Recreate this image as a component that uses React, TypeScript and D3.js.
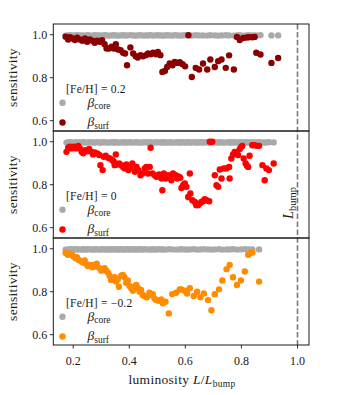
import React from "react";
import * as d3 from "d3";

// ---------- data ----------
const xTicks = [0.2, 0.4, 0.6, 0.8, 1.0];
const yTicks = [0.6, 0.8, 1.0];
const bumpLum = 1.0;

// [Fe/H] = 0.2
const lumA = [
  0.173,0.182,0.188,0.198,0.206,0.214,0.224,0.233,0.242,0.250,
  0.259,0.269,0.277,0.286,0.295,0.303,0.312,0.319,0.328,0.337,
  0.345,0.352,0.360,0.369,0.378,0.385,0.392,0.404,0.414,0.423,
  0.430,0.440,0.449,0.459,0.467,0.476,0.485,0.495,0.502,0.511,
  0.518,0.527,0.535,0.544,0.554,0.562,0.572,0.580,0.590,0.599,
  0.611,0.623,0.637,0.649,0.663,0.678,0.689,0.705,0.717,0.729,
  0.744,0.756,0.773,0.784,0.794,0.806,0.818,0.827,0.839,0.847,
  0.853,0.868,0.907,0.931,
];
const surfA = [
  0.991,0.978,0.988,0.983,0.975,0.986,0.978,0.972,0.983,0.967,
  0.978,0.972,0.963,0.972,0.967,0.975,0.956,0.936,0.936,0.944,
  0.936,0.956,0.931,0.928,0.916,0.913,0.858,0.941,0.913,0.900,
  0.894,0.905,0.900,0.905,0.913,0.909,0.916,0.909,0.920,0.905,
  0.827,0.831,0.850,0.866,0.858,0.873,0.869,0.872,0.863,0.853,
  0.998,0.803,0.846,0.838,0.866,0.838,0.885,0.850,0.877,0.885,
  0.846,0.904,0.838,0.990,0.975,0.985,0.987,0.988,0.988,0.990,
  0.916,0.908,0.869,0.892,
];
const coreA = [
  0.996,0.997,0.998,0.997,0.996,0.998,0.997,0.997,0.996,0.998,
  0.997,0.996,0.998,0.997,0.997,0.996,0.998,0.997,0.996,0.997,
  0.998,0.997,0.996,0.997,0.998,0.996,0.997,0.998,0.997,0.996,
  0.997,0.998,0.996,0.997,0.997,0.998,0.996,0.997,0.998,0.997,
  0.996,0.997,0.998,0.997,0.996,0.998,0.997,0.996,0.997,0.998,
  0.997,0.996,0.998,0.997,0.997,0.996,0.998,0.997,0.996,0.997,
  0.998,0.997,0.996,0.997,0.998,0.996,0.997,0.998,0.997,0.996,
  0.997,0.998,0.997,0.997,
];

// [Fe/H] = 0
const lumB = [
  0.176,0.182,0.188,0.194,0.202,0.210,0.218,0.224,0.230,0.236,
  0.243,0.250,0.257,0.265,0.271,0.277,0.286,0.293,0.297,0.305,
  0.309,0.316,0.325,0.331,0.340,0.345,0.348,0.352,0.357,0.364,
  0.372,0.378,0.384,0.390,0.397,0.404,0.411,0.420,0.426,0.432,
  0.440,0.447,0.455,0.461,0.467,0.473,0.476,0.483,0.491,0.497,
  0.506,0.515,0.518,0.523,0.530,0.538,0.544,0.550,0.556,0.566,
  0.571,0.578,0.582,0.586,0.592,0.598,0.604,0.610,0.616,0.618,
  0.625,0.634,0.639,0.645,0.651,0.657,0.663,0.669,0.675,0.685,
  0.687,0.696,0.705,0.711,0.717,0.723,0.729,0.737,0.746,0.756,
  0.758,0.764,0.770,0.776,0.782,0.788,0.794,0.800,0.803,0.808,
  0.815,0.820,0.824,0.829,0.839,0.847,0.856,0.863,0.875,0.883,
  0.889,0.898,0.915,
];
const surfB = [
  0.953,0.972,0.977,0.969,0.977,0.969,0.981,0.969,0.953,0.946,
  0.961,0.956,0.966,0.953,0.941,0.950,0.946,0.938,0.891,0.868,
  0.930,0.935,0.925,0.922,0.914,0.907,0.891,0.941,0.894,0.899,
  0.891,0.883,0.876,0.894,0.868,0.879,0.899,0.860,0.883,0.868,
  0.844,0.852,0.876,0.883,0.852,0.883,0.972,0.852,0.844,0.837,
  0.848,0.829,0.774,0.852,0.829,0.844,0.837,0.821,0.852,0.844,
  0.829,0.837,0.832,0.785,0.798,0.806,0.790,0.743,0.852,0.759,
  0.728,0.720,0.705,0.705,0.712,0.720,0.723,0.733,0.728,0.723,
  1.000,1.000,0.844,0.798,0.790,0.871,0.829,0.876,0.876,0.883,
  0.829,0.922,0.941,0.953,0.950,0.938,0.966,0.977,0.981,0.922,
  0.899,0.888,0.883,0.935,0.984,0.984,0.981,0.981,0.891,0.821,
  0.876,0.868,0.899,
];
const coreB = [
  0.996,0.997,0.998,0.997,0.996,0.998,0.997,0.997,0.996,0.998,
  0.997,0.996,0.998,0.997,0.997,0.996,0.998,0.997,0.996,0.997,
  0.998,0.997,0.996,0.997,0.998,0.996,0.997,0.998,0.997,0.996,
  0.997,0.998,0.996,0.997,0.997,0.998,0.996,0.997,0.998,0.997,
  0.996,0.997,0.998,0.997,0.996,0.998,0.997,0.996,0.997,0.998,
  0.997,0.996,0.998,0.997,0.997,0.996,0.998,0.997,0.996,0.997,
  0.998,0.997,0.996,0.997,0.998,0.996,0.997,0.998,0.997,0.996,
  0.997,0.998,0.996,0.997,0.997,0.998,0.996,0.997,0.998,0.997,
  0.996,0.997,0.998,0.997,0.996,0.998,0.997,0.996,0.997,0.998,
  0.997,0.996,0.998,0.997,0.997,0.996,0.998,0.997,0.996,0.997,
  0.998,0.997,0.996,0.997,0.998,0.996,0.997,0.998,0.997,0.996,
  0.997,0.998,0.997,
];

// [Fe/H] = -0.2
const lumC = [
  0.173,0.181,0.189,0.196,0.201,0.209,0.213,0.220,0.229,0.235,
  0.241,0.246,0.252,0.261,0.268,0.273,0.280,0.284,0.294,0.300,
  0.306,0.312,0.318,0.324,0.330,0.335,0.341,0.348,0.353,0.359,
  0.363,0.371,0.377,0.383,0.389,0.395,0.401,0.407,0.413,0.419,
  0.425,0.431,0.437,0.442,0.448,0.454,0.463,0.472,0.478,0.484,
  0.490,0.496,0.505,0.514,0.520,0.529,0.541,0.553,0.567,0.580,
  0.586,0.598,0.606,0.616,0.630,0.642,0.654,0.666,0.681,0.693,
  0.705,0.720,0.732,0.747,0.758,0.770,0.784,0.798,0.812,0.824,
  0.832,0.839,0.863,
];
const surfC = [
  0.980,0.972,0.977,0.972,0.964,0.956,0.961,0.948,0.941,0.936,
  0.945,0.930,0.920,0.925,0.914,0.925,0.917,0.930,0.910,0.898,
  0.902,0.910,0.898,0.889,0.874,0.855,0.863,0.867,0.847,0.858,
  0.823,0.874,0.878,0.867,0.842,0.852,0.827,0.816,0.805,0.823,
  0.831,0.816,0.800,0.808,0.785,0.780,0.774,0.795,0.785,0.789,
  0.769,0.761,0.758,0.764,0.746,0.753,0.699,0.789,0.795,0.810,
  0.811,0.805,0.792,0.816,0.780,0.800,0.774,0.792,0.761,0.714,
  0.788,0.811,0.852,0.905,0.925,0.867,0.831,0.852,0.894,0.972,
  0.980,0.983,0.847,
];
const coreC = [
  0.996,0.997,0.998,0.997,0.996,0.998,0.997,0.997,0.996,0.998,
  0.997,0.996,0.998,0.997,0.997,0.996,0.998,0.997,0.996,0.997,
  0.998,0.997,0.996,0.997,0.998,0.996,0.997,0.998,0.997,0.996,
  0.997,0.998,0.996,0.997,0.997,0.998,0.996,0.997,0.998,0.997,
  0.996,0.997,0.998,0.997,0.996,0.998,0.997,0.996,0.997,0.998,
  0.997,0.996,0.998,0.997,0.997,0.996,0.998,0.997,0.996,0.997,
  0.998,0.997,0.996,0.997,0.998,0.996,0.997,0.998,0.997,0.996,
  0.997,0.998,0.996,0.997,0.997,0.998,0.996,0.997,0.998,0.997,
  0.996,0.997,0.997,
];

const panelLabels = ["[Fe/H] = 0.2", "[Fe/H] = 0", "[Fe/H] = \u22120.2"];
const surfColors = ["#8b0000", "#ff0000", "#ff8c00"];
const coreColor = "#aaaaaa";

// ---------- layout ----------
const W = 347;
const H = 395;
const LEFT = 53.3;
const RIGHT = 309;
const TOP = 24;
const PH = 107;
const FONT = "Liberation Serif, DejaVu Serif, serif";
const INK = "#1a1a1a";

const panels = [
  { label: panelLabels[0], lum: lumA, surf: surfA, core: coreA, color: surfColors[0] },
  { label: panelLabels[1], lum: lumB, surf: surfB, core: coreB, color: surfColors[1] },
  { label: panelLabels[2], lum: lumC, surf: surfC, core: coreC, color: surfColors[2] },
];

const R = 3.2;

export default function App() {
  const x = d3.scaleLinear().domain([0.129, 1.041]).range([LEFT, RIGHT]);
  const bottom = TOP + PH * 3;
  return (
    <svg
      width={W}
      height={H}
      style={{ position: "absolute", left: 0, top: 0, background: "#fff", fontFamily: FONT }}
    >
      {panels.map((p, pi) => {
        const top = TOP + pi * PH;
        const y = d3.scaleLinear().domain([0.552, 1.05]).range([top + PH, top]);
        return (
          <g key={pi}>
            <defs>
              <clipPath id={`clip${pi}`}>
                <rect x={LEFT} y={top} width={RIGHT - LEFT} height={PH} />
              </clipPath>
            </defs>
            <g clipPath={`url(#clip${pi})`}>
              {p.lum.map((l, i) => (
                <circle key={"c" + i} cx={x(l)} cy={y(p.core[i])} r={R} fill={coreColor} />
              ))}
              {p.lum.map((l, i) => (
                <circle key={"s" + i} cx={x(l)} cy={y(p.surf[i])} r={R} fill={p.color} />
              ))}
            </g>
            {/* y ticks */}
            {yTicks.map((t) => (
              <g key={t}>
                <line x1={LEFT - 3.5} x2={LEFT} y1={y(t)} y2={y(t)} stroke={INK} strokeWidth={0.9} />
                <text
                  x={LEFT - 6}
                  y={y(t)}
                  dy="0.35em"
                  textAnchor="end"
                  fontSize={12}
                  fill={INK}
                >
                  {t.toFixed(1)}
                </text>
              </g>
            ))}
            {/* y label */}
            <text
              transform={`translate(17,${top + PH / 2}) rotate(-90)`}
              textAnchor="middle"
              fontSize={13.5}
              fill={INK}
              letterSpacing={0.3}
            >
              sensitivity
            </text>
            {/* legend */}
            <text x={66} y={top + 68.5} fontSize={11.5} fill={INK} letterSpacing={0.2}>
              {p.label}
            </text>
            <circle cx={62.5} cy={top + 78.7} r={R} fill={coreColor} />
            <circle cx={62.5} cy={top + 98.5} r={R} fill={p.color} />
            <text x={87.5} y={top + 82.5} fontSize={13.5} fill={INK}>
              <tspan fontStyle="italic">β</tspan>
              <tspan fontSize={9.5} dy={2.5}>core</tspan>
            </text>
            <text x={87.5} y={top + 102.3} fontSize={13.5} fill={INK}>
              <tspan fontStyle="italic">β</tspan>
              <tspan fontSize={9.5} dy={2.5}>surf</tspan>
            </text>
          </g>
        );
      })}

      {/* bump dashed line */}
      <line
        x1={x(bumpLum)}
        x2={x(bumpLum)}
        y1={TOP}
        y2={bottom}
        stroke="#7a7a7a"
        strokeWidth={1.6}
        strokeDasharray="5.5,2.4"
      />
      <text
        transform={`translate(293,${TOP + PH + 72}) rotate(-90)`}
        textAnchor="middle"
        fontSize={14.5}
        fill={INK}
      >
        <tspan fontStyle="italic">L</tspan>
        <tspan fontSize={10.5} dy={2.5}>bump</tspan>
      </text>

      {/* frames */}
      {panels.map((p, pi) => (
        <rect
          key={"f" + pi}
          x={LEFT}
          y={TOP + pi * PH}
          width={RIGHT - LEFT}
          height={PH}
          fill="none"
          stroke={INK}
          strokeWidth={1}
        />
      ))}

      {/* x ticks */}
      {xTicks.map((t) => (
        <g key={t}>
          <line x1={x(t)} x2={x(t)} y1={bottom} y2={bottom + 3.5} stroke={INK} strokeWidth={0.9} />
          <text x={x(t)} y={bottom + 20} textAnchor="middle" fontSize={12} fill={INK}>
            {t.toFixed(1)}
          </text>
        </g>
      ))}
      <text x={182} y={384} textAnchor="middle" fontSize={13.5} fill={INK} letterSpacing={0.3}>
        luminosity <tspan fontStyle="italic">L</tspan>/<tspan fontStyle="italic">L</tspan>
        <tspan fontSize={9.5} dy={2.5}>bump</tspan>
      </text>
    </svg>
  );
}
